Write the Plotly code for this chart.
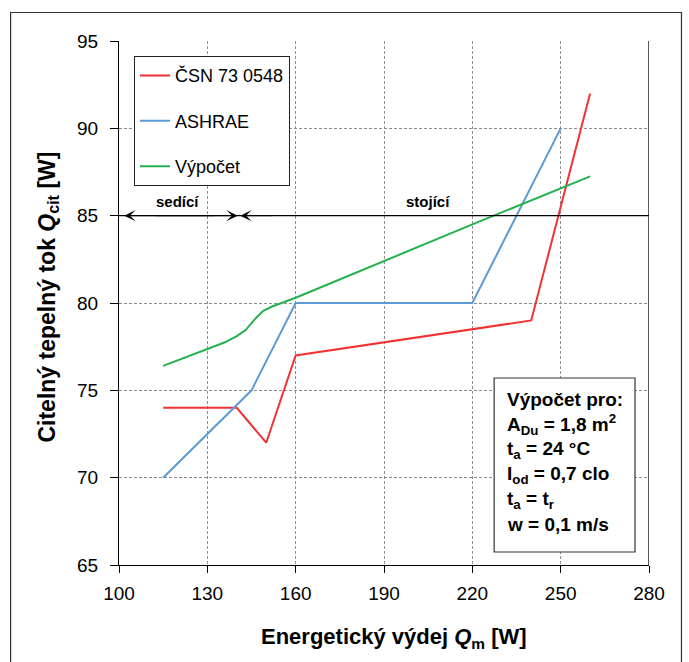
import plotly.graph_objects as go

# --- data -----------------------------------------------------------------
x_csn = [115, 140, 150, 160, 240, 260]
y_csn = [74, 74, 72, 77, 79, 92]

x_ashrae = [115, 145, 160, 220, 250]
y_ashrae = [70, 75, 80, 80, 90]

x_vypocet = [115, 122, 130, 136, 140, 143, 146, 149, 152, 156, 160, 220, 260]
y_vypocet = [76.4, 76.85, 77.35, 77.75, 78.1, 78.45, 79.05, 79.55, 79.8, 80.05, 80.3, 84.5, 87.25]

series_names = ["ČSN 73 0548", "ASHRAE", "Výpočet"]
series_colors = ["#f03232", "#5b9bd5", "#23b14d"]

x_ticks = [100, 130, 160, 190, 220, 250, 280]
y_ticks = [65, 70, 75, 80, 85, 90, 95]

# posture split: sitting up to ~140 W, standing above
posture_level = 85
posture_split = 140.7
posture_labels = [("sedící", 120), ("stojící", 205)]

info_lines = [
    "Výpočet pro:",
    "A<sub>Du</sub> = 1,8 m<sup>2</sup>",
    "t<sub>a</sub> = 24 °C",
    "I<sub>od</sub> = 0,7 clo",
    "t<sub>a</sub> = t<sub>r</sub>",
    "w = 0,1 m/s",
]

# --- layout helpers -------------------------------------------------------
W, H = 689, 662
L, R, T, B = 118.5, 649, 41, 565          # plot area in pixels
X0, X1 = x_ticks[0], x_ticks[-1]
Y0, Y1 = y_ticks[0], y_ticks[-1]


def px_x(px):
    return (px - L) / (R - L)


def px_y(py):
    return (B - py) / (B - T)


FONT = "Liberation Sans, Arial, sans-serif"

fig = go.Figure()

for xs, ys, name, col in zip([x_csn, x_ashrae, x_vypocet],
                             [y_csn, y_ashrae, y_vypocet],
                             series_names, series_colors):
    fig.add_trace(go.Scatter(x=xs, y=ys, mode="lines", name=name,
                             legendgroup=name,
                             line=dict(color=col, width=2)))

# posture boundary line
fig.add_trace(go.Scatter(x=[X0, X1], y=[posture_level, posture_level],
                         mode="lines", line=dict(color="black", width=1.3),
                         showlegend=False, hoverinfo="skip"))

annotations = []

# arrows along the posture line
for tip, tail in [(X0 + 1.8, posture_split - 8), (posture_split - 0.4, X0 + 12),
                  (posture_split + 0.5, posture_split + 12)]:
    annotations.append(dict(x=tip, y=posture_level, ax=tail, ay=posture_level,
                            xref="x", yref="y", axref="x", ayref="y",
                            text="", showarrow=True, arrowhead=3,
                            arrowsize=1.9, arrowwidth=1, arrowcolor="black"))

for label, xpos in posture_labels:
    annotations.append(dict(x=xpos, y=posture_level, xref="x", yref="y",
                            text=f"<b>{label}</b>", showarrow=False,
                            yanchor="bottom", yshift=4,
                            font=dict(family=FONT, size=15, color="black")))

# info box
for i, line in enumerate(info_lines):
    base = 406.7 + 25 * i
    annotations.append(dict(x=px_x(505), y=px_y(base - 7), xref="paper", yref="paper",
                            text=f"<b>{line}</b>", showarrow=False,
                            xanchor="left", yanchor="middle",
                            font=dict(family=FONT, size=19, color="black")))

# axis titles
annotations.append(dict(x=px_x(394), y=px_y(638), xref="paper", yref="paper",
                        text="<b>Energetický výdej <i>Q</i><sub>m</sub> [W]</b>",
                        showarrow=False, xanchor="center", yanchor="middle",
                        font=dict(family=FONT, size=22, color="black")))
annotations.append(dict(x=px_x(47), y=px_y(297), xref="paper", yref="paper",
                        text="<b>Citelný tepelný tok <i>Q</i><sub>cit</sub> [W]</b>",
                        showarrow=False, textangle=-90,
                        xanchor="center", yanchor="middle",
                        font=dict(family=FONT, size=23, color="black")))

shapes = [
    # outer frame
    dict(type="rect", xref="paper", yref="paper",
         x0=px_x(10), x1=px_x(681.5), y0=px_y(670), y1=px_y(12.5),
         line=dict(color="#333333", width=1.2), fillcolor="rgba(0,0,0,0)", layer="below"),
    # right border of the plot area
    dict(type="line", xref="x", yref="y", x0=X1, x1=X1, y0=Y0, y1=Y1,
         line=dict(color="black", width=1.3)),
    # info box frame
    dict(type="rect", xref="paper", yref="paper",
         x0=px_x(494), x1=px_x(635), y0=px_y(552), y1=px_y(378),
         line=dict(color="#333333", width=1.2), fillcolor="white", layer="above"),
]

fig.update_layout(
    width=W, height=H,
    margin=dict(l=L, r=W - R, t=T, b=H - B),
    paper_bgcolor="white", plot_bgcolor="white",
    font=dict(family=FONT, size=19, color="black"),
    showlegend=True,
    legend=dict(x=px_x(133.3), y=px_y(56), xanchor="left", yanchor="top",
                bgcolor="white", bordercolor="#222222", borderwidth=1.2,
                font=dict(family=FONT, size=18, color="black"),
                tracegroupgap=19, traceorder="grouped"),
    annotations=annotations,
    shapes=shapes,
)

fig.update_xaxes(range=[X0, X1], tickvals=x_ticks, ticks="outside", ticklen=7,
                 tickcolor="black", showline=True, linecolor="black", linewidth=1.3,
                 showgrid=True, gridcolor="#8c8c8c", gridwidth=1, griddash="3px,2px",
                 zeroline=False, tickfont=dict(family=FONT, size=19),
                 ticklabelstandoff=4)
fig.update_yaxes(range=[Y0, Y1], tickvals=y_ticks, ticks="outside", ticklen=8,
                 tickcolor="black", showline=True, linecolor="black", linewidth=1.3,
                 showgrid=True, gridcolor="#8c8c8c", gridwidth=1, griddash="3px,2px",
                 zeroline=False, tickfont=dict(family=FONT, size=19),
                 ticklabelstandoff=8)

fig.write_html("out.html")
